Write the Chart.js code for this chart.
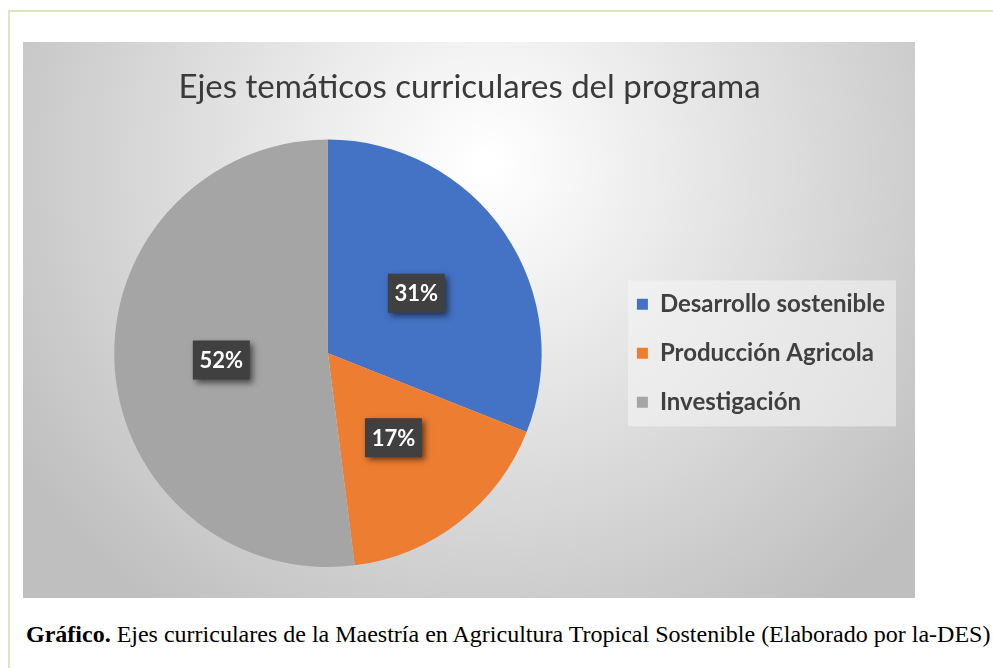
<!DOCTYPE html>
<html>
<head>
<meta charset="utf-8">
<script src="https://cdn.jsdelivr.net/npm/chart.js@4.4.1/dist/chart.umd.min.js"></script>
<style>
  html, body { margin: 0; padding: 0; background: #fff; }
  body { width: 993px; height: 668px; position: relative; overflow: hidden; }
  #frame { position: absolute; left: 8px; top: 10px; width: 990px; height: 670px;
           border-top: 2px solid #dde6c2; border-left: 2px solid #dde6c2; }
  #chartBox { position: absolute; left: 23px; top: 42px; width: 892px; height: 556px; }
  #caption { position: absolute; left: 26px; top: 621px; font-family: "Liberation Serif", "Times New Roman", serif;
             font-size: 24px; color: #000; white-space: nowrap; }
</style>
</head>
<body>
<div id="frame"></div>
<div id="chartBox"><canvas id="pieChart"></canvas></div>
<div id="caption"><b>Gráfico.</b> Ejes curriculares de la Maestría en Agricultura Tropical Sostenible (Elaborado por la-DES)</div>
<script>
// datos del gráfico
const categorias = ['Desarrollo sostenible', 'Producción Agricola', 'Investigación'];
const porcentajes = [31, 17, 52];
const colores = ['#4472C4', '#ED7D31', '#A5A5A5'];
const titulo = 'Ejes temáticos curriculares del programa';

// fondo con degradado radial + caja blanca de la leyenda
const fondoPlugin = {
    id: 'fondo',
    beforeDraw(chart) {
        const ctx = chart.ctx;
        const w = chart.width, h = chart.height;
        ctx.save();
        const g = ctx.createRadialGradient(w * 0.52, h * 0.22, 10, w * 0.52, h * 0.22, w * 0.62);
        g.addColorStop(0, '#ffffff');
        g.addColorStop(1, '#bfbfbf');
        ctx.fillStyle = g;
        ctx.fillRect(0, 0, w, h);

        // caja de la leyenda
        const boxes = chart.legend.legendHitBoxes;
        if (boxes && boxes.length) {
            let x1 = Infinity, y1 = Infinity, x2 = -Infinity, y2 = -Infinity;
            boxes.forEach(b => {
                x1 = Math.min(x1, b.left); y1 = Math.min(y1, b.top);
                x2 = Math.max(x2, b.left + b.width); y2 = Math.max(y2, b.top + b.height);
            });
            ctx.fillStyle = 'rgba(245,245,245,0.55)';
            ctx.fillRect(x1 - 9, y1 - 12, (x2 - x1) + 20, (y2 - y1) + 24);
        }
        ctx.restore();
    }
};

// etiquetas de porcentaje con caja oscura
const etiquetasPlugin = {
    id: 'etiquetas',
    afterDatasetsDraw(chart) {
        const ctx = chart.ctx;
        const meta = chart.getDatasetMeta(0);
        ctx.save();
        ctx.font = 'bold 22px Lato';
        ctx.textAlign = 'center';
        ctx.textBaseline = 'middle';
        meta.data.forEach((arc, i) => {
            const p = arc.tooltipPosition();
            const txt = porcentajes[i] + '%';
            const bw = 57, bh = 39;
            ctx.shadowColor = 'rgba(0,0,0,0.55)';
            ctx.shadowBlur = 6;
            ctx.shadowOffsetX = 3;
            ctx.shadowOffsetY = 3;
            ctx.fillStyle = '#404040';
            ctx.fillRect(p.x - bw / 2, p.y - bh / 2, bw, bh);
            ctx.shadowColor = 'transparent';
            ctx.fillStyle = '#ffffff';
            ctx.fillText(txt, p.x, p.y + 1);
        });
        ctx.restore();
    }
};

const ctx = document.getElementById('pieChart').getContext('2d');
window.miGrafico = new Chart(ctx, {
    type: 'pie',
    data: {
        labels: categorias,
        datasets: [{
            data: porcentajes,
            backgroundColor: colores,
            borderWidth: 0
        }]
    },
    options: {
        responsive: true,
        maintainAspectRatio: false,
        animation: false,
        layout: { padding: { top: 0, bottom: 31, left: 21, right: 20 } },
        plugins: {
            title: {
                display: true,
                text: titulo,
                color: '#3a3a3a',
                font: { family: 'Lato', size: 33, weight: 'normal' },
                padding: { top: 26, bottom: 32 }
            },
            legend: {
                position: 'right',
                fullSize: false,
                labels: {
                    color: '#404040',
                    font: { family: 'Lato', size: 24, weight: 'bold' },
                    boxWidth: 11,
                    boxHeight: 11,
                    padding: 25
                }
            },
            tooltip: { enabled: false }
        }
    },
    plugins: [fondoPlugin, etiquetasPlugin]
});
</script>
</body>
</html>
